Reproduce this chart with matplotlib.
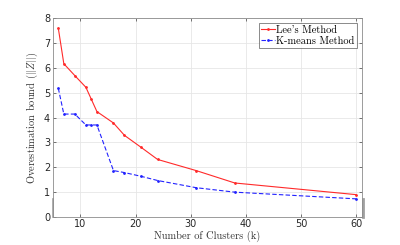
import matplotlib
matplotlib.use("Agg")
import matplotlib.pyplot as plt

k_lee = [6, 7, 9, 11, 12, 13, 16, 18, 21, 24, 31, 38, 60]
lee_vals = [7.6, 6.17, 5.69, 5.22, 4.73, 4.24, 3.78, 3.28, 2.8, 2.31, 1.86, 1.36, 0.89]
k_km = [6, 7, 9, 11, 12, 13, 16, 18, 21, 24, 31, 38, 60]
km_vals = [5.18, 4.14, 4.14, 3.7, 3.7, 3.7, 1.86, 1.78, 1.63, 1.46, 1.17, 0.99, 0.72]
x_ticks = [10, 20, 30, 40, 50, 60]
y_ticks = [0, 1, 2, 3, 4, 5, 6, 7, 8]

plt.rcParams['mathtext.fontset'] = 'cm'
serif = ['cmr10', 'DejaVu Serif']

fig = plt.figure(figsize=(4, 2.45), dpi=100)
ax = fig.add_axes([0.132, 0.1155, 0.772, 0.8095])

ax.plot(k_lee, lee_vals, color='#ff2a2a', lw=0.8, marker='.', ms=2, label="Lee's Method")
ax.plot(k_km, km_vals, color='#2222ff', lw=0.8, ls=(0, (4, 2)), marker='.', ms=2, label="K-means Method")

ax.set_xlim(5, 61)
ax.set_ylim(0, 8)
ax.set_xticks(x_ticks)
ax.set_yticks(y_ticks)
ax.grid(True, color='#e6e6e6', lw=0.6)
ax.set_axisbelow(True)
ax.tick_params(direction='in', length=2.5, width=0.5, colors='#404040', labelsize=7,
               top=True, right=True, pad=2)
for lab in ax.get_xticklabels() + ax.get_yticklabels():
    lab.set_color('#262626')
for s in ax.spines.values():
    s.set_color('#8c8c8c')
    s.set_linewidth(0.6)

# thicker grey segments near bottom of the side axes (as in reference)
ax.plot([0, 0], [0, 0.7], transform=ax.get_yaxis_transform(), color='#a0a0a0', lw=1.2, clip_on=False)
ax.plot([1.003, 1.003], [0, 0.7], transform=ax.get_yaxis_transform(), color='#a0a0a0', lw=2.0, clip_on=False)

ax.set_xlabel('Number of Clusters (k)', fontfamily=serif, fontsize=7.5, color='#333333', labelpad=1)
ax.set_ylabel('Overestimation bound ($||Z||$)', fontfamily=serif, fontsize=7.5, color='#333333', labelpad=3)

leg = ax.legend(loc='upper right', prop={'family': serif, 'size': 7.5}, frameon=True,
                fancybox=False, edgecolor='#333333', handlelength=1.3, handletextpad=0.15,
                borderpad=0.25, labelspacing=0.15, borderaxespad=0.4)
leg.get_frame().set_linewidth(0.5)

fig.savefig('out.png', dpi=100)
